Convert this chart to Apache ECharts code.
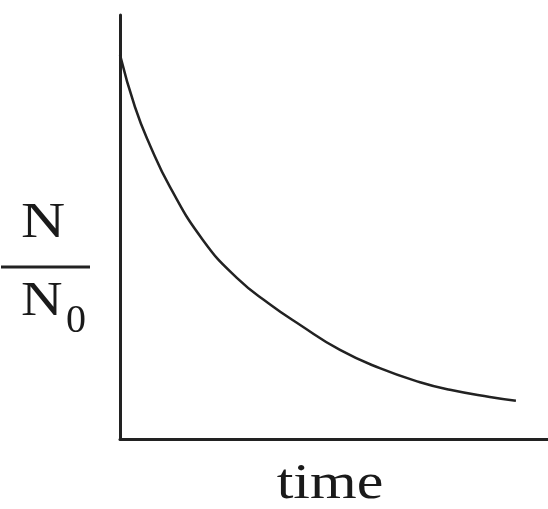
<!DOCTYPE html>
<html>
<head>
<meta charset="utf-8">
<script src="https://cdn.jsdelivr.net/npm/echarts@6/dist/echarts.min.js"></script>
<style>
html,body{margin:0;padding:0;background:#fff;}
#chart{width:548px;height:509px;}
</style>
</head>
<body>
<div id="chart"></div>
<script>
// (time in arbitrary units, N/N0 fraction)
var timeValues = [0, 0.35, 0.70, 1.17, 1.94, 2.73, 3.50, 4.21, 5.14, 6.07, 7.01, 7.71, 8.64, 9.25];
var ratioValues = [0.906, 0.783, 0.693, 0.594, 0.469, 0.380, 0.318, 0.269, 0.210, 0.167, 0.134, 0.116, 0.099, 0.090];
var xAxisTitle = 'time';
var yNumerator = 'N';
var yDenominator = 'N';
var yDenominatorSub = '0';

var chart = echarts.init(document.getElementById('chart'));
var points = timeValues.map(function (t, i) { return [t, ratioValues[i]]; });
var serif = '"Liberation Serif","DejaVu Serif",serif';
var ink = '#1a1a1a';

chart.setOption({
  animation: false,
  backgroundColor: '#fff',
  grid: { left: 120, right: 0, top: 15, bottom: 70, containLabel: false, outerBoundsMode: 'none' },
  xAxis: {
    type: 'value', min: 0, max: 10,
    axisLine: { show: true, onZero: false, lineStyle: { color: '#222', width: 3 } },
    axisTick: { show: false }, axisLabel: { show: false }, splitLine: { show: false }
  },
  yAxis: {
    type: 'value', min: 0, max: 1,
    axisLine: { show: true, onZero: false, lineStyle: { color: '#222', width: 3 } },
    axisTick: { show: false }, axisLabel: { show: false }, splitLine: { show: false }
  },
  series: [{
    type: 'line',
    data: points,
    smooth: 0.5,
    showSymbol: false,
    lineStyle: { color: '#222', width: 2.5 }
  }],
  graphic: [
    { type: 'text', x: 21, y: 198, scaleX: 1.2,
      style: { text: yNumerator, font: '51px ' + serif, fill: ink, textVerticalAlign: 'top' } },
    { type: 'line', shape: { x1: 1, y1: 267, x2: 90, y2: 267 },
      style: { stroke: '#222', lineWidth: 3 } },
    { type: 'text', x: 21, y: 278, scaleX: 1.2,
      style: { text: yDenominator, font: '48px ' + serif, fill: ink, textVerticalAlign: 'top' } },
    { type: 'text', x: 66, y: 301,
      style: { text: yDenominatorSub, font: '40px ' + serif, fill: ink, textVerticalAlign: 'top' } },
    { type: 'text', x: 330, y: 460, scaleX: 1.2,
      style: { text: xAxisTitle, font: '50px ' + serif, fill: ink, textAlign: 'center', textVerticalAlign: 'top' } }
  ]
});
</script>
</body>
</html>
